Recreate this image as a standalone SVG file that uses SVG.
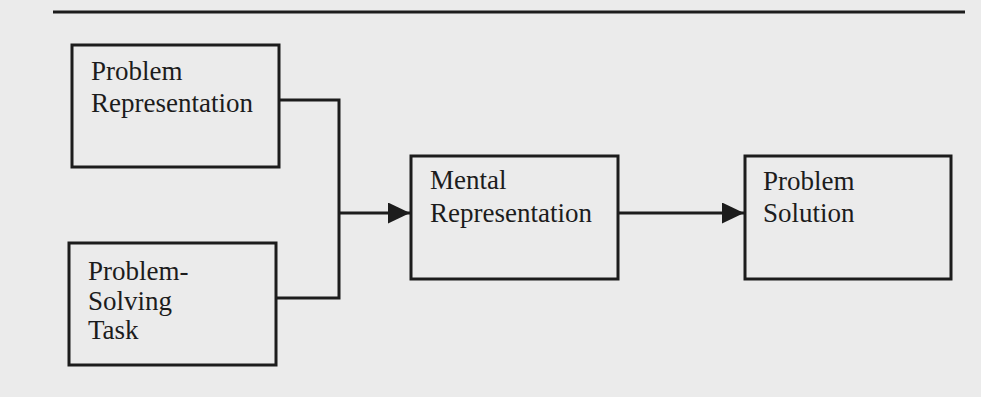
<svg xmlns="http://www.w3.org/2000/svg" width="981" height="397" viewBox="0 0 981 397">
<style>
.box{fill:none;stroke:#1c1c1c;stroke-width:3}
.ln{fill:none;stroke:#1c1c1c;stroke-width:3}
.t{font-family:"Liberation Serif","Times New Roman",serif;font-size:27px;fill:#1c1c1c}
</style>
<defs>
<marker id="ah" markerWidth="22" markerHeight="21" refX="22" refY="10.5" orient="auto" markerUnits="userSpaceOnUse">
<path d="M0,0 L22,10.5 L0,21 Z" fill="#1c1c1c"/>
</marker>
</defs>
<rect width="981" height="397" fill="#ebebeb"/>
<line class="ln" x1="53" y1="12" x2="965" y2="12"/>
<g id="problem-representation">
<rect class="box" x="72" y="45" width="207" height="122"/>
<text class="t" x="91" y="80">Problem</text>
<text class="t" x="91" y="112">Representation</text>
</g>
<g id="problem-solving-task">
<rect class="box" x="69" y="243" width="207" height="122"/>
<text class="t" x="88" y="280">Problem-</text>
<text class="t" x="88" y="310">Solving</text>
<text class="t" x="88" y="339">Task</text>
</g>
<g id="mental-representation">
<rect class="box" x="411" y="156" width="207" height="123"/>
<text class="t" x="430" y="189">Mental</text>
<text class="t" x="430" y="222">Representation</text>
</g>
<g id="problem-solution">
<rect class="box" x="745" y="156" width="206" height="123"/>
<text class="t" x="763" y="190">Problem</text>
<text class="t" x="763" y="222">Solution</text>
</g>
<g id="connectors">
<polyline class="ln" points="279,100 339,100 339,298 276,298"/>
<line class="ln" x1="339" y1="213" x2="410" y2="213" marker-end="url(#ah)"/>
<line class="ln" x1="618" y1="213" x2="744" y2="213" marker-end="url(#ah)"/>
</g>
</svg>
